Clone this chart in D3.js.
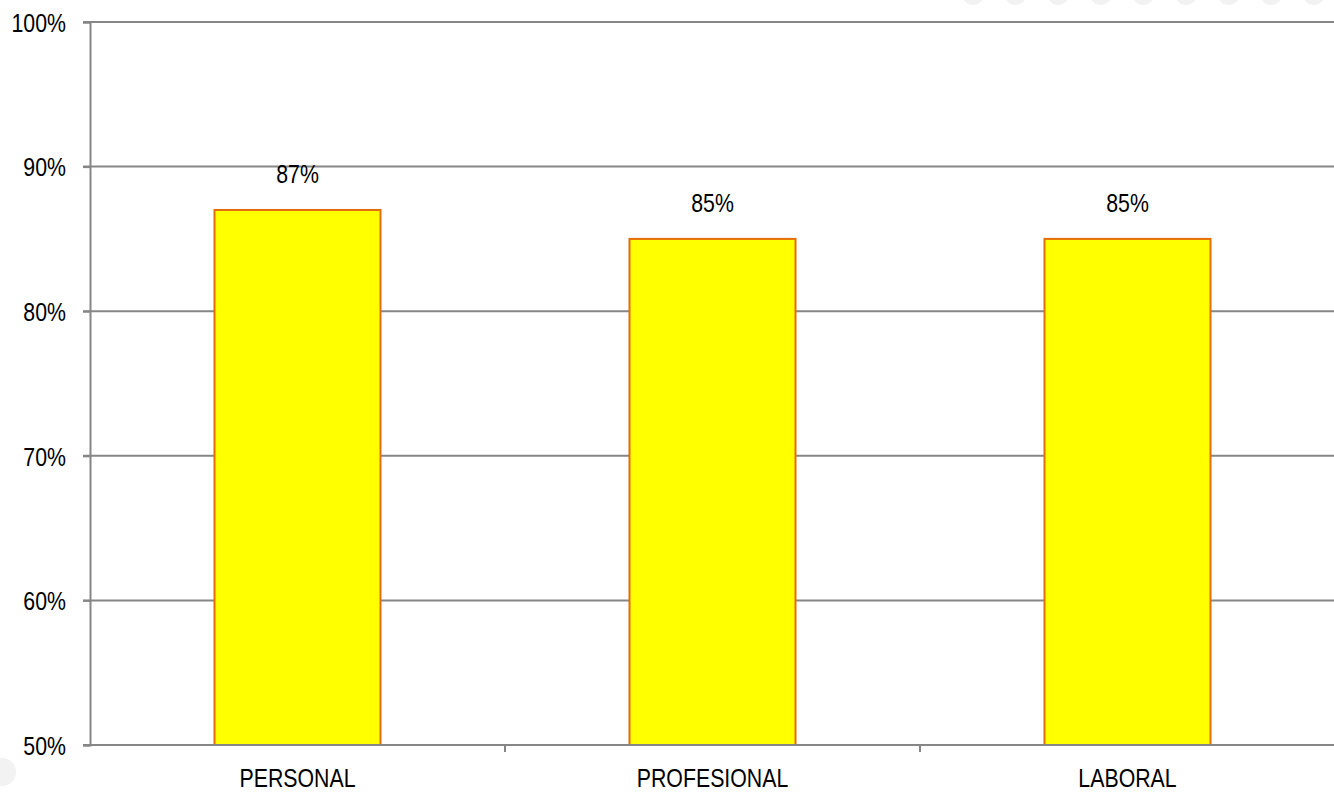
<!DOCTYPE html>
<html>
<head>
<meta charset="utf-8">
<script src="https://cdn.jsdelivr.net/npm/d3@7"></script>
<style>
  body { margin: 0; background: #fff; }
  text { font-family: "Liberation Sans", Arial, sans-serif; fill: #000; }
</style>
</head>
<body>
<div id="graph"></div>
<script>
"use strict";

var categories = ["PERSONAL", "PROFESIONAL", "LABORAL"];
var values = [0.87, 0.85, 0.85];
var yTicks = [0.5, 0.6, 0.7, 0.8, 0.9, 1.0];

var width = 1334, height = 792;
var margin = {top: 22, left: 90, bottom: 47, right: -1};
var squeeze = 0.82; // the source text is narrow, so squeeze it sideways
var fontSize = 26;

var svg = d3.select("#graph").append("svg")
    .attr("width", width)
    .attr("height", height);

// faint background dots from the slide
var deco = svg.append("g").attr("fill", "#f2f2f2");
d3.range(9).forEach(function (i) {
    deco.append("circle").attr("cx", 973 + i * 42.6).attr("cy", -6).attr("r", 11);
});
deco.append("circle").attr("cx", 2).attr("cy", 772).attr("r", 14);

var x = d3.scaleBand()
    .domain(categories)
    .range([margin.left, width - margin.right])
    .paddingInner(0)
    .paddingOuter(0);

var y = d3.scaleLinear()
    .domain([0.5, 1.0])
    .range([height - margin.bottom, margin.top]);

// gridlines
svg.append("g")
    .selectAll("line")
    .data(yTicks.slice(1))
    .enter().append("line")
    .attr("x1", margin.left - 7)
    .attr("x2", width)
    .attr("y1", function (d) { return y(d); })
    .attr("y2", function (d) { return y(d); })
    .attr("stroke", "#868686")
    .attr("stroke-width", 2);

// y axis
var yAxis = svg.append("g")
    .attr("transform", "translate(" + margin.left + ",0)")
    .call(d3.axisLeft(y).tickValues(yTicks).tickFormat(d3.format(".0%")).tickSize(7).tickPadding(17));
yAxis.select(".domain").attr("stroke", "#868686").attr("stroke-width", 2);
yAxis.selectAll(".tick line").attr("stroke", "#868686").attr("stroke-width", 2);
yAxis.selectAll(".tick text")
    .attr("font-size", fontSize)
    .attr("font-family", null)
    .attr("x", -24 / squeeze)
    .attr("dy", "0.36em")
    .attr("transform", "scale(" + squeeze + ",1)");

// bars
svg.append("g")
    .selectAll("rect")
    .data(values)
    .enter().append("rect")
    .attr("x", function (d, i) { return x(categories[i]) + x.bandwidth() * 0.3; })
    .attr("width", x.bandwidth() * 0.4)
    .attr("y", function (d) { return y(d); })
    .attr("height", function (d) { return y(0.5) - y(d); })
    .attr("fill", "#ffff00")
    .attr("stroke", "#e46c0a")
    .attr("stroke-width", 2);

// value labels
svg.append("g")
    .selectAll("text")
    .data(values)
    .enter().append("text")
    .attr("transform", function (d, i) {
        return "translate(" + (x(categories[i]) + x.bandwidth() / 2) + "," + (y(d) - 27) + ") scale(" + squeeze + ",1)";
    })
    .attr("text-anchor", "middle")
    .attr("font-size", fontSize)
    .text(function (d) { return Math.round(d * 100) + "%"; });

// x axis
var xAxis = svg.append("g")
    .attr("transform", "translate(0," + y(0.5) + ")")
    .call(d3.axisBottom(x).tickSize(0));
xAxis.select(".domain").remove();
xAxis.selectAll(".tick text")
    .attr("font-size", fontSize)
    .attr("font-family", null)
    .attr("y", 0)
    .attr("dy", 0)
    .attr("transform", "translate(0,42) scale(" + squeeze + ",1)");

svg.append("line")
    .attr("x1", margin.left - 7).attr("x2", width)
    .attr("y1", y(0.5)).attr("y2", y(0.5))
    .attr("stroke", "#868686").attr("stroke-width", 2);

svg.append("g")
    .selectAll("line")
    .data(categories.slice(1))
    .enter().append("line")
    .attr("x1", function (d) { return x(d); })
    .attr("x2", function (d) { return x(d); })
    .attr("y1", y(0.5))
    .attr("y2", y(0.5) + 7)
    .attr("stroke", "#868686")
    .attr("stroke-width", 2);
</script>
</body>
</html>
